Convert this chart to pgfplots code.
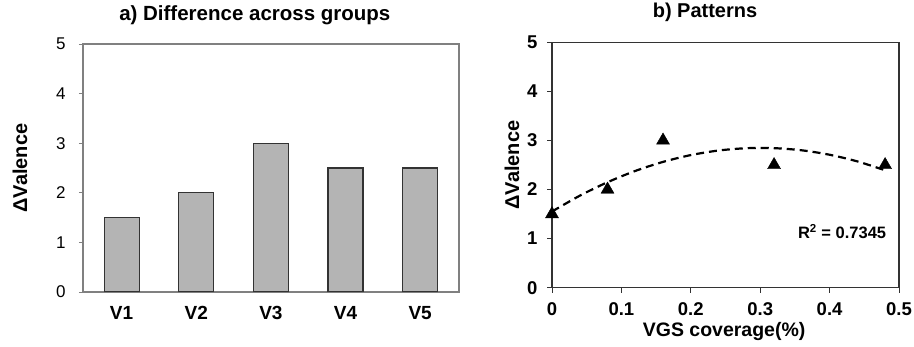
\documentclass[border=0pt]{standalone}
\usepackage{pgfplots}
\pgfplotsset{compat=1.18}
\usepackage{fontspec}
\setmainfont{Liberation Sans}
\definecolor{barfill}{HTML}{B4B4B4}
\definecolor{framegray}{HTML}{808080}
\definecolor{darkline}{HTML}{333333}
\begin{document}
\begin{tikzpicture}[x=1pt,y=1pt]
\useasboundingbox (0,0) rectangle (914,347);
% ---------------- a) ----------------
\begin{axis}[
  at={(83pt,55pt)}, anchor=south west,
  scale only axis, width=376pt, height=248pt,
  xmin=0.483, xmax=5.52, ymin=0, ymax=5,
  xtick={1,2,3,4,5}, xticklabels={V1,V2,V3,V4,V5},
  ytick={0,1,2,3,4,5},
  /pgf/number format/assume math mode=true,
  axis line style={framegray, line width=1.2pt},
  tick align=outside, ytick pos=left, xtick pos=bottom,
  major tick length=4pt,
  xtick style={draw=none},
  ytick style={framegray, line width=0.8pt},
  xticklabel style={font=\fontsize{19}{22}\selectfont\bfseries, yshift=-7pt},
  yticklabel style={font=\fontsize{17}{20}\selectfont, xshift=-10pt},
  ylabel={ΔValence},
  ylabel style={at={(axis description cs:-0.1676,0.5)}, anchor=center, font=\fontsize{20}{22}\selectfont\bfseries},
  title={a) Difference across groups},
  title style={at={(axis description cs:0.457,1.091)}, anchor=center, font=\fontsize{20.5}{23}\selectfont\bfseries},
]
\addplot[ybar, bar width=35pt, bar shift=0pt, fill=barfill, draw=darkline, line width=1.1pt]
  coordinates {(1,1.5) (2,2) (3,3) (4,2.5) (5,2.5)};
\end{axis}
% ---------------- b) ----------------
\begin{axis}[
  at={(552pt,59.3pt)}, anchor=south west,
  scale only axis, width=347pt, height=245.4pt,
  xmin=0, xmax=0.5, ymin=0, ymax=5,
  xtick={0,0.1,0.2,0.3,0.4,0.5},
  xticklabels={0,0.1,0.2,0.3,0.4,0.5},
  ytick={0,1,2,3,4,5},
  /pgf/number format/assume math mode=true,
  axis line style={darkline, line width=1.3pt},
  tick align=outside, ytick pos=left, xtick pos=bottom,
  major tick length=5pt,
  tick style={darkline, line width=0.9pt},
  xticklabel style={font=\fontsize{18.5}{21}\selectfont\bfseries, inner sep=0pt, yshift=-10pt},
  yticklabel style={font=\fontsize{18.5}{21}\selectfont\bfseries, xshift=-6pt},
  ylabel={ΔValence},
  ylabel style={at={(axis description cs:-0.115,0.5)}, anchor=center, font=\fontsize{20}{22}\selectfont\bfseries},
  xlabel={VGS coverage(\%)},
  xlabel style={at={(axis description cs:0.496,-0.178)}, anchor=center, inner sep=0pt, font=\fontsize{19.5}{22}\selectfont\bfseries},
  title={b) Patterns},
  title style={at={(axis description cs:0.441,1.098)}, anchor=center, font=\fontsize{20}{22}\selectfont\bfseries},
  clip=false,
]
\addplot[black, dash pattern=on 8pt off 5pt, line width=2.2pt, smooth]
  coordinates {(0,1.552) (0.04,1.874) (0.08,2.149) (0.12,2.379) (0.16,2.563) (0.20,2.702)
               (0.24,2.795) (0.28,2.842) (0.32,2.843) (0.36,2.799) (0.40,2.709) (0.44,2.573) (0.48,2.392)};
\addplot[only marks, mark=triangle*, mark size=7.5pt, black]
  coordinates {(0,1.5) (0.08,2) (0.16,3) (0.32,2.5) (0.48,2.5)};
\node[font=\fontsize{16.5}{19}\selectfont\bfseries] at (axis cs:0.418,1.143) {R\textsuperscript{2} = 0.7345};
\end{axis}
\end{tikzpicture}
\end{document}
